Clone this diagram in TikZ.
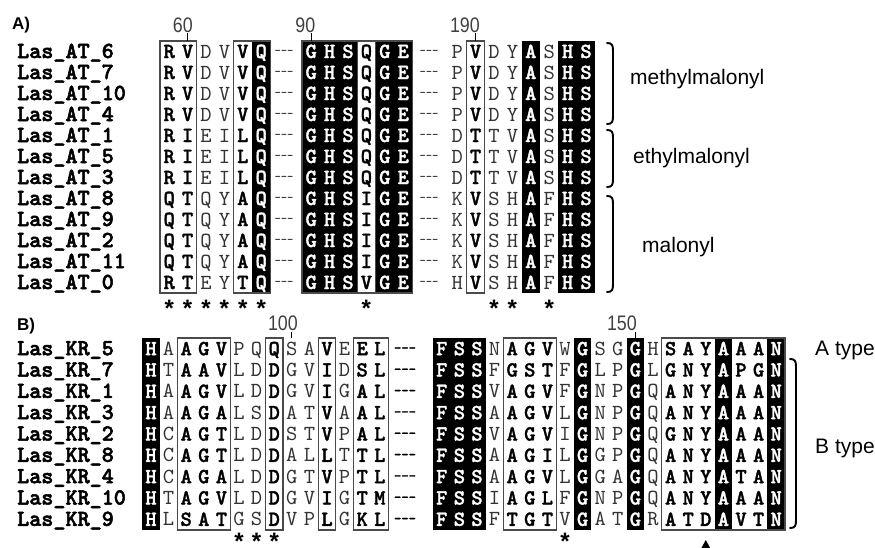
\documentclass[tikz,border=0pt]{standalone}
\usepackage{fontspec}
\setmainfont{Liberation Sans}
\newfontfamily\monofont{Liberation Mono}
\newfontfamily\lmmono{lmmono10-regular.otf}
\newfontfamily\lmmonob{lmmonolt10-bold.otf}[FakeBold=1.5]
\newfontfamily\lmmononame{lmmonolt10-bold.otf}[FakeBold=2.2]
\newfontfamily\numfont[FakeStretch=0.85]{Liberation Sans}
\definecolor{boxgray}{HTML}{4A4A4A}
\def\drawrow#1#2#3#4{\def\rx{#1}\pgfmathsetmacro\ry{#2}%
  \edef\next{\noexpand\rowloop#3\noexpand\relax#4\noexpand\relax}\next}
\def\rowloop#1#2\relax#3#4\relax{%
  \node[r#1] at (\rx,\ry) {#3};%
  \pgfmathsetmacro\rx{\rx+\pitch}%
  \ifx\relax#2\relax\else\rowloop#2\relax#4\relax\fi}
\newcommand\brkt[3]{\draw[brk] (#1,#2) .. controls (#1+5,#2) and (#1+6,#2+2) .. (#1+6,#2+8) -- (#1+6,#3-8) .. controls (#1+6,#3-2) and (#1+5,#3) .. (#1,#3);}
\tikzset{
 boxline/.style={draw=boxgray, line width=1.1pt},
 blackcol/.style={fill=black},
 rn/.style={font=\lmmono\fontsize{21.5}{21.5}\selectfont, inner sep=0pt, anchor=base, text=black!80},
 rb/.style={font=\lmmonob\fontsize{21.5}{21.5}\selectfont, inner sep=0pt, anchor=base},
 rw/.style={rb, text=white},
 seqname/.style={font=\lmmononame\fontsize{23}{23}\selectfont, inner sep=0pt, anchor=base west},
 posnum/.style={font=\numfont\fontsize{21}{21}\selectfont, inner sep=0pt, anchor=base east, text=black!75},
 tick/.style={line width=1.3pt},
 gapA/.style={font=\lmmono\fontsize{12}{12}\selectfont, inner sep=0pt, anchor=base},
 gapB/.style={font=\lmmonob\fontsize{14}{14}\selectfont, inner sep=0pt, anchor=base},
 cons/.style={font=\monofont\bfseries\fontsize{24}{24}\selectfont, inner sep=0pt, anchor=base},
 grouplabel/.style={font=\fontsize{21}{21}\selectfont, inner sep=0pt, anchor=west},
 panel/.style={font=\bfseries\fontsize{17}{17}\selectfont, inner sep=0pt, anchor=base west},
 brk/.style={line width=1.9pt, line cap=round}
}
\begin{document}
\begin{tikzpicture}[x=1pt,y=-1pt]
\fill[white] (0,0) rectangle (875,547);
\useasboundingbox (0,0) rectangle (875,547);
% ================= Panel A =================
\node[panel] (pA) at (12,29.5) {A)};
\foreach \n [count=\i from 0] in {6,7,10,4,1,5,3,8,9,2,11,0}
  \node[seqname] (nA\i) at (17,{58+21*\i}) {Las\_AT\_\n};
% shading and boxes
\fill[blackcol] (252,41) rectangle (270.4,293);
\fill[blackcol] (302,41) rectangle (357.2,293);
\fill[blackcol] (375.6,41) rectangle (412.4,293);
\fill[blackcol] (521.6,41) rectangle (540,293);
\fill[blackcol] (558.4,41) rectangle (595.2,293);
\draw[boxline] (160,41) rectangle (196.8,293);
\draw[boxline] (233.6,41) rectangle (270.4,293);
\draw[boxline] (357.2,41) rectangle (375.6,293);
\draw[boxline] (302,41) rectangle (412.4,293);
\draw[boxline] (466.4,41) rectangle (484.8,293);
% position numbers
\node[posnum] (n60) at (193,32) {60};
\draw[tick] (187.6,33) -- (187.6,41);
\node[posnum] (n90) at (315.5,32) {90};
\draw[tick] (311.2,33) -- (311.2,41);
\node[posnum] (n190) at (480,32) {190};
\draw[tick] (475.6,33) -- (475.6,41);
% residues
\def\pitch{18.4}
\foreach \s [count=\i from 0] in {RVDVVQ,RVDVVQ,RVDVVQ,RVDVVQ,RIEILQ,RIEILQ,RIEILQ,QTQYAQ,QTQYAQ,QTQYAQ,QTQYAQ,RTEYTQ}
  {\drawrow{169.2}{58+21*\i}{bbnnbw}{\s}}
\foreach \s [count=\i from 0] in {GHSQGE,GHSQGE,GHSQGE,GHSQGE,GHSQGE,GHSQGE,GHSQGE,GHSIGE,GHSIGE,GHSIGE,GHSIGE,GHSVGE}
  {\drawrow{311.2}{58+21*\i}{wwwbww}{\s}}
\foreach \s [count=\i from 0] in {PVDYASHS,PVDYASHS,PVDYASHS,PVDYASHS,DTTVASHS,DTTVASHS,DTTVASHS,KVSHAFHS,KVSHAFHS,KVSHAFHS,KVSHAFHS,HVSHAFHS}
  {\drawrow{457.2}{58+21*\i}{nbnnwnww}{\s}}
\foreach \i in {0,...,11}{
  \node[gapA] at (284,{51.5+21*\i+3}) {-{}-{}-};
  \node[gapA] at (429,{51.5+21*\i+3}) {-{}-{}-};
}
% conservation
\foreach \x in {169.2,187.6,206,224.4,242.8,261.2,366.4,494,512.4,549.2}
  \node[cons] at (\x,317) {*};
% groups
\brkt{607}{43}{124}
\brkt{607}{130}{187}
\brkt{607}{196}{292}
\node[grouplabel] (gm) at (630,79.5) {methylmalonyl};
\node[grouplabel] (ge) at (633,158) {ethylmalonyl};
\node[grouplabel] (gl) at (642,247.5) {malonyl};
% ================= Panel B =================
\node[panel] (pB) at (17,330) {B)};
\foreach \n [count=\i from 0] in {5,7,1,3,2,8,4,10,9}
  \node[seqname] (nB\i) at (17,{355.2+21.33*\i}) {Las\_KR\_\n};
\fill[blackcol] (142.2,338) rectangle (159.8,530);
\fill[blackcol] (433,338) rectangle (485.8,530);
\fill[blackcol] (573.8,338) rectangle (591.4,530);
\fill[blackcol] (626.6,338) rectangle (644.2,530);
\fill[blackcol] (714.6,338) rectangle (732.2,530);
\fill[blackcol] (767.4,338) rectangle (785,530);
\draw[boxline] (177.4,338) rectangle (230.2,530);
\draw[boxline] (265.4,338) rectangle (283,530);
\draw[boxline] (318.2,338) rectangle (335.8,530);
\draw[boxline] (353.4,338) rectangle (388.6,530);
\draw[boxline] (503.4,338) rectangle (556.2,530);
\draw[boxline] (661.8,338) rectangle (785,530);
\node[posnum] (n100) at (298,330) {100};
\draw[tick] (291.8,332) -- (291.8,338);
\node[posnum] (n150) at (637,330) {150};
\draw[tick] (635.4,332) -- (635.4,338);
\def\pitch{17.6}
\foreach \s [count=\i from 0] in {HAAGVPQQSAVEEL,HTAAVLDDGVIDSL,HAAGVLDDGVIGAL,HAAGALSDATVAAL,HCAGTLDDSTVPAL,HCAGTLDDALLTTL,HCAGALDDGTVPTL,HTAGVLDDGVIGTM,HLSATGSDVPLGKL}
  {\drawrow{151}{355.2+21.33*\i}{wnbbbnnbnnbnbb}{\s}}
\foreach \s [count=\i from 0] in {FSSNAGVWGSGGHSAYAAAN,FSSFGSTFGLPGLGNYAPGN,FSSVAGVFGNPGQANYAAAN,FSSAAGVLGNPGQANYAAAN,FSSVAGVIGNPGQGNYAAAN,FSSAAGILGGPGQANYAAAN,FSSAAGVLGGAGQANYATAN,FSSIAGLFGNPGQANYAAAN,FSSFTGTVGATGRATDAVTN}
  {\drawrow{441.8}{355.2+21.33*\i}{wwwnbbbnwnnwnbbbwbbw}{\s}}
\foreach \i in {0,...,8}
  \node[gapB] at (405,{348.7+21.33*\i+3.5}) {-{}-{}-};
\foreach \x in {239,256.6,274.2,565}
  \node[cons] at (\x,550) {*};
\fill (705.8,540) -- (699.8,551) -- (711.8,551) -- cycle;
\node[grouplabel] (ta) at (815,350) {A type};
\brkt{790}{359}{528}
\node[grouplabel] (tb) at (815,448) {B type};
\end{tikzpicture}
\end{document}
